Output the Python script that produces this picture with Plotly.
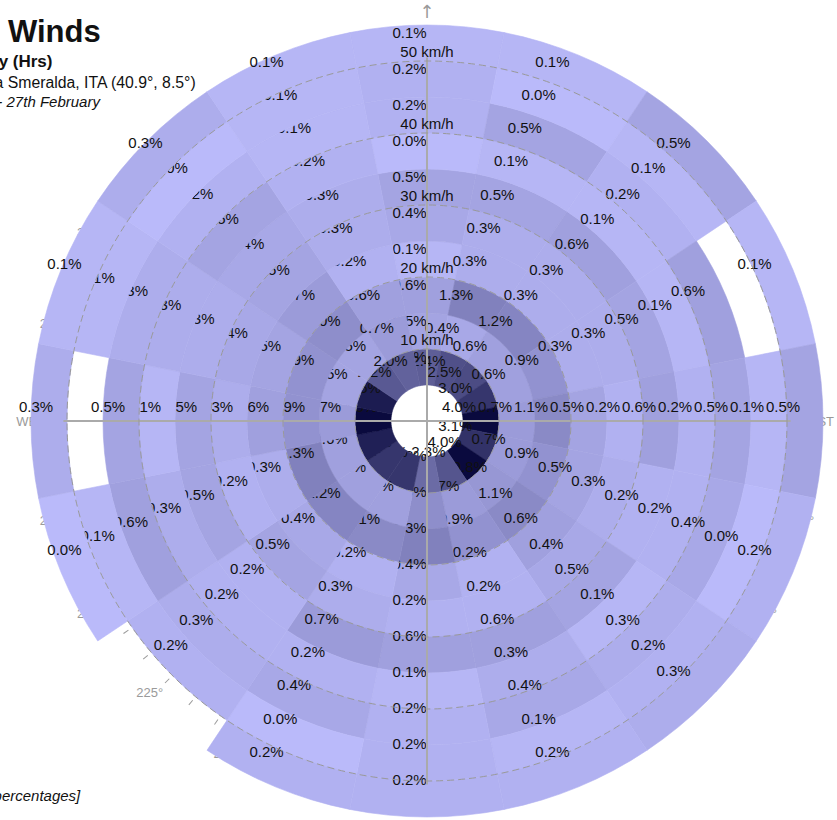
import math
import plotly.graph_objects as go

# 16 compass points, clockwise from north
directions = ["N", "NNE", "NE", "ENE", "E", "ESE", "SE", "SSE",
              "S", "SSW", "SW", "WSW", "W", "WNW", "NW", "NNW"]
bearings = [i * 22.5 for i in range(16)]

# speed bands (km/h): 5-10, 10-15, ... 50-55
speed_edges = [5, 10, 15, 20, 25, 30, 35, 40, 45, 50, 55]
ring_ticks = [10, 20, 30, 40, 50]

# share of hours (%) in each speed band, slowest band first; None = no hours
freq_N = [2.1, 0.5, 0.6, 0.1, 0.4, 0.5, 0.0, 0.2, 0.2, 0.1]
freq_NNE = [2.4, 0.4, 1.3, 0.3, 0.3, 0.5, 0.1, 0.5, 0.0, 0.1]
freq_NE = [2.5, 0.6, 1.2, 0.3, 0.3, 0.6, 0.1, 0.2, 0.1, 0.5]
freq_ENE = [3.0, 0.6, 0.9, 0.3, 0.3, 0.5, 0.1, 0.6, None, 0.1]
freq_E = [4.0, 0.7, 1.1, 0.5, 0.2, 0.6, 0.2, 0.5, 0.1, 0.5]
freq_ESE = [3.1, 0.7, 0.9, 0.5, 0.3, 0.2, 0.2, 0.4, 0.0, 0.2]
freq_SE = [4.0, 0.8, 1.1, 0.6, 0.4, 0.5, 0.1, 0.3, 0.2, 0.3]
freq_SSE = [2.3, 0.7, 0.9, 0.2, 0.2, 0.6, 0.3, 0.4, 0.1, 0.2]
freq_S = [1.8, 1.0, 1.3, 0.4, 0.2, 0.6, 0.1, 0.2, 0.2, 0.2]
freq_SSW = [3.0, 0.6, 1.1, 0.2, 0.3, 0.7, 0.2, 0.4, 0.0, 0.2]
freq_SW = [3.0, 0.6, 1.2, 0.4, 0.5, 0.2, 0.2, 0.3, 0.2, None]
freq_WSW = [3.5, 0.6, 1.3, 0.3, 0.2, 0.5, 0.3, 0.6, 0.1, 0.0]
freq_W = [4.5, 0.7, 0.9, 0.6, 0.3, 0.5, 0.1, 0.5, None, 0.3]
freq_WNW = [3.6, 0.5, 0.9, 0.5, 0.4, 0.3, 0.3, 0.3, 0.1, 0.1]
freq_NW = [2.2, 0.5, 1.0, 0.7, 0.5, 0.4, 0.5, 0.2, 0.0, 0.3]
freq_NNW = [2.0, 0.7, 0.6, 0.2, 0.3, 0.3, 0.2, 0.1, 0.1, 0.1]

freq_by_dir = [freq_N, freq_NNE, freq_NE, freq_ENE, freq_E, freq_ESE, freq_SE,
               freq_SSE, freq_S, freq_SSW, freq_SW, freq_WSW, freq_W,
               freq_WNW, freq_NW, freq_NNW]

# ---- page geometry -------------------------------------------------------
W, H = 837, 820
CX, CY = 427, 421          # rose centre on the page (px)
PX = 7.2                   # pixels per km/h
SECTOR = 22.5
ARC_STEPS = 8

FONT = "Liberation Sans, Arial, Helvetica, sans-serif"
LIGHT = (186, 186, 250)
DARK = (10, 10, 62)
VMAX = 4.0


def polar_domain(radius_px):
    return dict(x=[(CX - radius_px) / W, (CX + radius_px) / W],
                y=[(H - CY - radius_px) / H, (H - CY + radius_px) / H])


def shade(v):
    t = max(0.0, min(v / VMAX, 1.0))
    c = [round(a + (b - a) * t) for a, b in zip(LIGHT, DARK)]
    return "rgb({},{},{})".format(*c)


def cell_outline(lo, hi, a0, a1):
    angs = [a0 + (a1 - a0) * i / ARC_STEPS for i in range(ARC_STEPS + 1)]
    r = [lo] * len(angs) + [hi] * len(angs) + [lo]
    t = angs + angs[::-1] + [a0]
    return r, t


def label_spot(r, bearing):
    """Label sits up-left of a point a little inside the band centre."""
    th = math.radians(bearing)
    rr = r - 4.5 / PX
    x = rr * math.sin(th) - 17.5 / PX
    y = rr * math.cos(th) + 13 / PX
    return math.hypot(x, y), math.degrees(math.atan2(x, y)) % 360


fig = go.Figure()

# placeholder so the compass subplot underneath gets drawn
fig.add_trace(go.Scatterpolar(r=[0], theta=[0], mode="markers",
                              marker=dict(size=0.1, opacity=0),
                              subplot="polar", hoverinfo="skip",
                              showlegend=False))

# cells are drawn direction by direction (clockwise), slow to fast, each
# followed by its own label, so later cells overlap earlier labels
for name, b, values in zip(directions, bearings, freq_by_dir):
    for k, v in enumerate(values):
        if v is None:
            continue
        lo, hi = speed_edges[k], speed_edges[k + 1]
        col = shade(v)
        rr, tt = cell_outline(lo, hi, b - SECTOR / 2, b + SECTOR / 2)
        fig.add_trace(go.Scatterpolar(
            r=rr, theta=tt, mode="lines", fill="toself", fillcolor=col,
            line=dict(color=col, width=0.6),
            subplot="polar2", hoverinfo="skip", showlegend=False))
        lr, lt = label_spot((lo + hi) / 2, b)
        fig.add_trace(go.Scatterpolar(
            r=[lr], theta=[lt], mode="text", text=[f"{v:.1f}%"],
            textposition="middle center",
            textfont=dict(family=FONT, size=15, color="#111"),
            subplot="polar2", hoverinfo="skip", showlegend=False))

# speed ring captions on the north spoke
fig.add_trace(go.Scatterpolar(
    r=ring_ticks, theta=[0] * len(ring_ticks), mode="text",
    text=[f"{v} km/h" for v in ring_ticks], textposition="top center",
    textfont=dict(family=FONT, size=15, color="#111"),
    subplot="polar3", hoverinfo="skip", showlegend=False))

compass_text = {0: "", 90: "EAST", 180: "SOUTH", 270: "WEST"}
tick_angles = list(range(0, 360, 5))
tick_text = [compass_text.get(a, f"{a}°") if a % 15 == 0 else "" for a in tick_angles]

R_OUT = 399
R_COMPASS = 364
fig.update_layout(
    width=W, height=H, margin=dict(l=0, r=0, t=0, b=0),
    paper_bgcolor="white", showlegend=False,
    # bottom: compass ticks and degree labels
    polar=dict(
        domain=polar_domain(R_COMPASS), bgcolor="white",
        radialaxis=dict(visible=False, range=[0, 50]),
        angularaxis=dict(rotation=90, direction="clockwise", tickmode="array",
                         tickvals=tick_angles, ticktext=tick_text,
                         ticks="outside", ticklen=6, tickcolor="#9a9a9a",
                         showline=False, showgrid=False,
                         tickfont=dict(family=FONT, size=13, color="#9a9a9a"))),
    # middle: frequency cells, with the north pointer on top
    polar2=dict(
        domain=polar_domain(R_OUT), bgcolor="rgba(0,0,0,0)",
        radialaxis=dict(visible=False, range=[0, R_OUT / PX]),
        angularaxis=dict(rotation=90, direction="clockwise", tickmode="array",
                         tickvals=[0], ticktext=["↑"], ticks="",
                         showline=False, showgrid=False, layer="above traces",
                         tickfont=dict(family="DejaVu Sans", size=18,
                                       color="#9a9a9a"))),
    # top: range rings and compass cross
    polar3=dict(
        domain=polar_domain(50.5 * PX), bgcolor="rgba(0,0,0,0)",
        radialaxis=dict(range=[0, 50.5], tickmode="array", tickvals=ring_ticks,
                        showticklabels=False, ticks="", showline=False,
                        gridcolor="#999999", griddash="7px,4px", gridwidth=1),
        angularaxis=dict(rotation=90, direction="clockwise", tickmode="array",
                         tickvals=[0, 90, 180, 270], showticklabels=False,
                         ticks="", showline=False, gridcolor="#aaaaaa",
                         gridwidth=1.5)),
)


def note(text, px_right, py, size, bold=False, italic=False):
    if bold:
        text = f"<b>{text}</b>"
    if italic:
        text = f"<i>{text}</i>"
    fig.add_annotation(text=text, xref="paper", yref="paper",
                       x=px_right / W, y=1 - py / H, xanchor="right",
                       yanchor="middle", showarrow=False,
                       font=dict(family=FONT, size=size, color="#111"))


note("Winds", 103, 31, 31, bold=True)
note("Wind Frequency (Hrs)", 54, 62, 17, bold=True)
note("Porto Cervo, Costa Smeralda, ITA (40.9°, 8.5°)", 198, 83, 15.8)
note("20th - 27th February", 103, 101, 15, italic=True)
note("[values in percentages]", 83, 795, 15, italic=True)

fig.write_html("out.html")
